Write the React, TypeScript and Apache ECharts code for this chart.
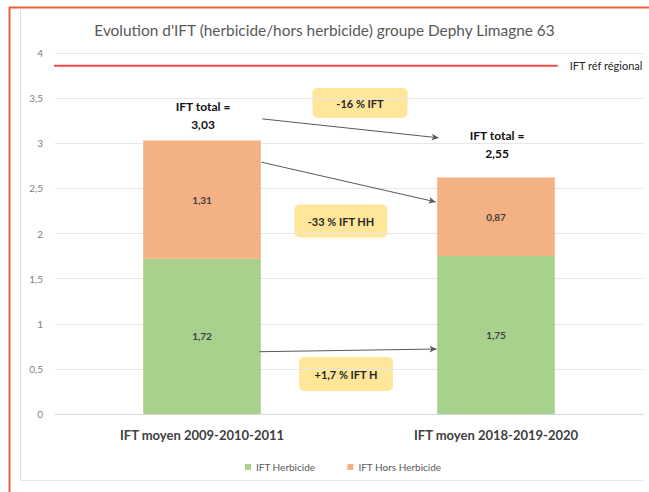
import React, { useEffect, useRef } from "react";
import * as echarts from "echarts";

const categories = ["IFT moyen 2009-2010-2011", "IFT moyen 2018-2019-2020"];
const herbicide = [1.72, 1.75];
const horsHerbicide = [1.31, 0.87];
const totalLabels = ["3,03", "2,55"];
const refRegional = 3.86;
const refLabel = "IFT réf régional";
const changeLabels = ["-16 % IFT", "-33 % IFT HH", "+1,7 % IFT H"];

const fmt = (v: number) => v.toFixed(2).replace(".", ",");

export default function App() {
  const ref = useRef<HTMLDivElement>(null);
  useEffect(() => {
    if (!ref.current) return;
    const chart = echarts.init(ref.current, null, { renderer: "svg" });
    const font = "Lato";
    const box = (cx: number, cy: number, w: number, h: number, text: string) => ({
      type: "group",
      children: [
        {
          type: "rect",
          shape: { x: cx - w / 2, y: cy - h / 2, width: w, height: h, r: 5 },
          style: { fill: "#FFE699", stroke: "none" },
        },
        {
          type: "text",
          x: cx,
          y: cy,
          style: {
            text,
            fill: "#262626",
            font: `bold 11px ${font}`,
            align: "center",
            verticalAlign: "middle",
          },
        },
      ],
    });
    const totalText = (cx: number, cy: number, t: string) => ({
      type: "text",
      x: cx,
      y: cy,
      style: {
        text: "IFT total =\n" + t,
        fill: "#111",
        font: `bold 12px ${font}`,
        align: "center",
        verticalAlign: "middle",
        lineHeight: 18,
      },
    });
    chart.setOption({
      animation: false,
      textStyle: { fontFamily: font },
      title: {
        text: "Evolution d'IFT (herbicide/hors herbicide) groupe Dephy Limagne 63",
        left: "center",
        top: 17,
        textStyle: { fontSize: 15.4, fontWeight: "normal", color: "#595959", fontFamily: font },
      },
      legend: {
        data: ["IFT Herbicide", "IFT Hors Herbicide"],
        left: 240,
        top: 457,
        icon: "rect",
        itemWidth: 6,
        itemHeight: 6,
        itemGap: 32,
        textStyle: { fontSize: 10, color: "#595959", fontFamily: font },
      },
      grid: { left: 55, right: 6, top: 53, bottom: 78 },
      xAxis: [
        {
          type: "category",
          data: categories,
          axisTick: { show: false },
          axisLine: { lineStyle: { color: "#D9D9D9" } },
          axisLabel: { fontSize: 13, color: "#404040", fontWeight: "bold", margin: 14 },
        },
        { type: "value", min: -0.5, max: 1.5, show: false },
      ],
      yAxis: {
        type: "value",
        min: 0,
        max: 4,
        interval: 0.5,
        axisLine: { show: false },
        axisTick: { show: false },
        axisLabel: {
          fontSize: 10,
          color: "#808080",
          margin: 12,
          formatter: (v: number) => String(v).replace(".", ","),
        },
        splitLine: { lineStyle: { color: "#E6E6E6" } },
      },
      series: [
        {
          name: "IFT Herbicide",
          type: "bar",
          stack: "t",
          barWidth: "40%",
          data: herbicide,
          itemStyle: { color: "#A9D18E" },
          label: {
            show: true,
            position: "inside",
            formatter: (p: any) => fmt(p.value),
            fontSize: 10,
            fontWeight: "bold",
            color: "#404040",
          },
        },
        {
          name: "IFT Hors Herbicide",
          type: "bar",
          stack: "t",
          barWidth: "40%",
          data: horsHerbicide,
          itemStyle: { color: "#F4B183" },
          label: {
            show: true,
            position: "inside",
            formatter: (p: any) => fmt(p.value),
            fontSize: 10,
            fontWeight: "bold",
            color: "#404040",
          },
        },
        {
          name: refLabel,
          type: "line",
          xAxisIndex: 1,
          symbol: "none",
          data: [
            [-0.51, refRegional],
            [1.21, refRegional],
          ],
          lineStyle: { color: "#EF4B4B", width: 2 },
          endLabel: {
            show: true,
            formatter: refLabel,
            fontSize: 11,
            color: "#262626",
            distance: 12,
          },
          markLine: {
            silent: true,
            symbol: ["none", "arrow"],
            symbolSize: [5, 7],
            label: { show: false },
            lineStyle: { color: "#595959", width: 1, type: "solid" },
            data: [
              [{ coord: [0.205, 3.27] }, { coord: [0.805, 3.06] }],
              [{ coord: [0.202, 2.79] }, { coord: [0.795, 2.35] }],
              [{ coord: [0.195, 0.69] }, { coord: [0.798, 0.72] }],
            ],
          },
        },
      ],
      graphic: [
        { type: "line", shape: { x1: 9, y1: 7.5, x2: 649, y2: 7.5 }, style: { stroke: "#E8603C", lineWidth: 2 } },
        { type: "line", shape: { x1: 9.5, y1: 7, x2: 9.5, y2: 492 }, style: { stroke: "#E8603C", lineWidth: 2 } },
        { type: "line", shape: { x1: 20.5, y1: 10, x2: 20.5, y2: 480 }, style: { stroke: "#DDDDDD", lineWidth: 1 } },
        { type: "line", shape: { x1: 20, y1: 480.5, x2: 643, y2: 480.5 }, style: { stroke: "#E6E6E6", lineWidth: 1 } },
        box(360, 103, 95, 30, changeLabels[0]),
        box(341, 221, 93, 33, changeLabels[1]),
        box(346, 374, 94, 34, changeLabels[2]),
        totalText(203, 115, totalLabels[0]),
        totalText(497, 144, totalLabels[1]),
      ],
    });
    return () => chart.dispose();
  }, []);
  return (
    <div
      ref={ref}
      style={{ position: "absolute", left: 0, top: 0, width: 649, height: 492, background: "#fff", overflow: "hidden" }}
    />
  );
}
